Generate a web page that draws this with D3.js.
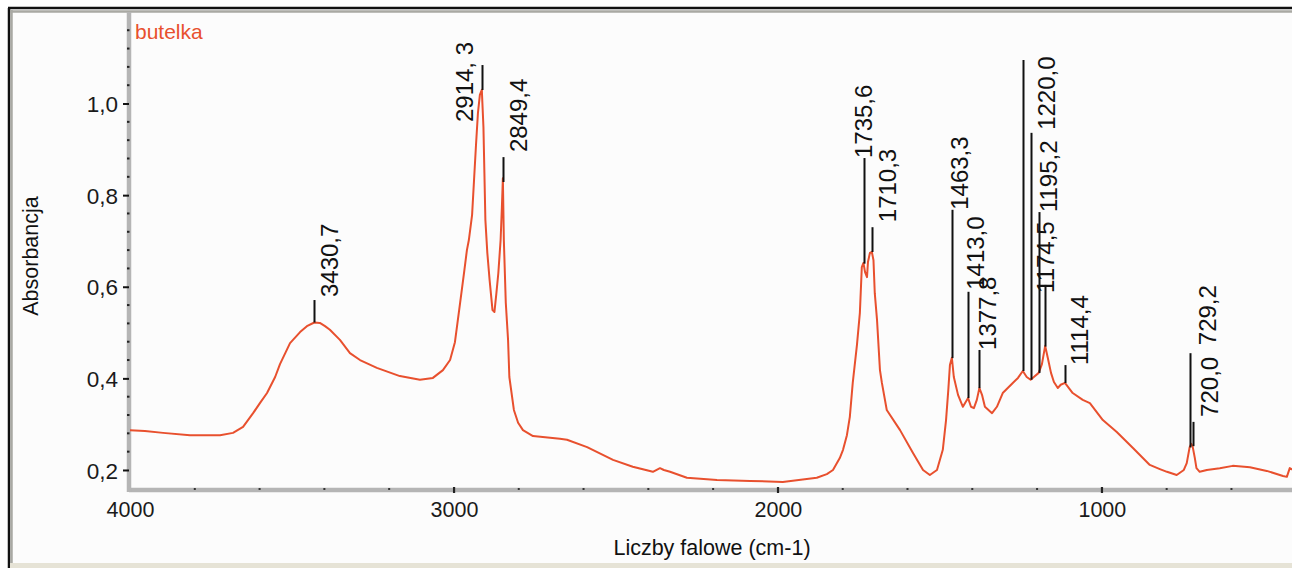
<!DOCTYPE html>
<html>
<head>
<meta charset="utf-8">
<script src="https://cdn.jsdelivr.net/npm/d3@7"></script>
<style>
  html, body { margin: 0; padding: 0; background: #ffffff; }
  svg { display: block; }
  text { font-family: "Liberation Sans", Arial, sans-serif; }
</style>
</head>
<body>
<svg id="chart" width="1292" height="568"></svg>
<script>
// ---- data ----
const wavenumbers = [4000, 3954, 3898, 3815, 3722, 3682, 3651, 3620, 3599, 3577, 3552, 3537, 3506, 3475, 3454, 3431, 3414, 3398, 3383, 3352, 3321, 3290, 3238, 3167, 3105, 3065, 3034, 3012, 2997, 2981, 2969, 2960, 2954, 2944, 2938, 2932, 2926, 2920, 2914, 2909, 2906, 2903, 2897, 2890, 2881, 2875, 2869, 2863, 2856, 2852, 2849, 2846, 2840, 2833, 2829, 2815, 2802, 2787, 2756, 2673, 2651, 2589, 2509, 2448, 2386, 2364, 2352, 2333, 2281, 2188, 2086, 1985, 1880, 1849, 1830, 1809, 1799, 1787, 1778, 1769, 1756, 1747, 1741, 1736, 1731, 1725, 1722, 1716, 1710, 1705, 1701, 1694, 1685, 1679, 1664, 1623, 1583, 1552, 1531, 1509, 1491, 1481, 1474, 1469, 1463, 1457, 1444, 1429, 1413, 1404, 1395, 1386, 1378, 1370, 1361, 1339, 1324, 1306, 1275, 1259, 1244, 1232, 1220, 1210, 1195, 1185, 1175, 1167, 1157, 1148, 1136, 1127, 1114, 1090, 1059, 1037, 997, 954, 904, 852, 821, 799, 769, 747, 738, 729, 724, 720, 713, 708, 698, 676, 636, 596, 543, 491, 441, 429, 420, 410];
const absorbance = [0.287, 0.285, 0.281, 0.276, 0.276, 0.281, 0.294, 0.324, 0.346, 0.368, 0.403, 0.431, 0.477, 0.501, 0.514, 0.522, 0.521, 0.514, 0.506, 0.484, 0.455, 0.440, 0.423, 0.405, 0.397, 0.401, 0.418, 0.440, 0.479, 0.565, 0.630, 0.680, 0.702, 0.757, 0.833, 0.909, 0.979, 1.019, 1.030, 0.949, 0.848, 0.746, 0.674, 0.615, 0.549, 0.545, 0.586, 0.630, 0.702, 0.774, 0.837, 0.702, 0.565, 0.484, 0.403, 0.331, 0.303, 0.287, 0.274, 0.268, 0.266, 0.250, 0.222, 0.207, 0.196, 0.204, 0.200, 0.196, 0.183, 0.178, 0.176, 0.174, 0.183, 0.191, 0.200, 0.226, 0.244, 0.276, 0.316, 0.390, 0.473, 0.543, 0.643, 0.652, 0.632, 0.621, 0.654, 0.674, 0.676, 0.658, 0.586, 0.527, 0.418, 0.390, 0.331, 0.287, 0.237, 0.200, 0.189, 0.200, 0.244, 0.309, 0.375, 0.429, 0.445, 0.403, 0.364, 0.338, 0.357, 0.338, 0.335, 0.353, 0.379, 0.364, 0.338, 0.324, 0.338, 0.368, 0.390, 0.401, 0.416, 0.403, 0.397, 0.403, 0.412, 0.431, 0.471, 0.445, 0.412, 0.392, 0.379, 0.386, 0.390, 0.368, 0.353, 0.346, 0.309, 0.283, 0.248, 0.211, 0.202, 0.196, 0.189, 0.200, 0.215, 0.250, 0.257, 0.252, 0.226, 0.204, 0.196, 0.200, 0.204, 0.209, 0.206, 0.198, 0.187, 0.185, 0.204, 0.200];

const seriesName = "butelka";
const xTitle = "Liczby falowe (cm-1)";
const yTitle = "Absorbancja";

const xTickValues = [4000, 3000, 2000, 1000];
const xTickLabels = ["4000", "3000", "2000", "1000"];
const xMinorTicks = [3800, 3600, 3400, 3200, 2800, 2600, 2400, 2200, 1800, 1600, 1400, 1200, 800, 600];
const yTickValues = [0.2, 0.4, 0.6, 0.8, 1.0];
const yTickLabels = ["0,2", "0,4", "0,6", "0,8", "1,0"];
const yMinorTicks = [0.24, 0.28, 0.32, 0.36, 0.44, 0.48, 0.52, 0.56, 0.64, 0.68, 0.72, 0.76, 0.84, 0.88, 0.92, 0.96, 1.04, 1.08, 1.12, 1.16];

const peakWavenumbers = [3430.7, 2914.3, 2849.4, 1735.6, 1710.3, 1463.3, 1413.0, 1377.8, 1244.0, 1220.0, 1195.2, 1174.5, 1114.4, 729.2, 720.0];
const peakLabels = ["3430,7", "2914, 3", "2849,4", "1735,6", "1710,3", "1463,3", "1413,0", "1377,8", "", "1220,0", "1195,2", "1174,5", "1114,4", "729,2", "720,0"];
const peakLineTops = [0.571, 1.084, 0.883, 0.881, 0.730, 0.768, 0.589, 0.462, 1.095, 0.936, 0.763, 0.604, 0.429, 0.455, 0.305];

// ---- layout (pixel offsets of the rotated peak labels) ----
const labelDx = [23, -10, 23, 7, 23, 15, 15, 16, 0, 23, 17, 8, 22, 25, 24];
const labelDy = [-3, 57, -5, 0, -5, 0, -2, 0, 0, -3, 0, 8, 0, -8, -5];

// ---- drawing ----
const W = 1292, H = 568;
const svg = d3.select("#chart");

const x = d3.scaleLinear().domain([4000, 410]).range([130, 1293]);
const y = d3.scaleLinear().domain([0.1563, 1.1998]).range([490, 12]);

// window frame
svg.append("rect").attr("x", 10).attr("y", 10).attr("width", W - 10).attr("height", H - 14).attr("fill", "#fcfcfc");
svg.append("line").attr("x1", 8).attr("x2", W).attr("y1", 8).attr("y2", 8).attr("stroke", "#111").attr("stroke-width", 2.5);
svg.append("line").attr("x1", 9).attr("x2", 9).attr("y1", 8).attr("y2", H).attr("stroke", "#111").attr("stroke-width", 2.5);
svg.append("line").attr("x1", 10).attr("x2", W).attr("y1", 11.5).attr("y2", 11.5).attr("stroke", "#a9a9a3").attr("stroke-width", 2.5);
svg.append("line").attr("x1", 11.5).attr("x2", 11.5).attr("y1", 10).attr("y2", H).attr("stroke", "#a9a9a3").attr("stroke-width", 2.5);
svg.append("line").attr("x1", 10).attr("x2", W).attr("y1", 565.5).attr("y2", 565.5).attr("stroke", "#e6e3d6").attr("stroke-width", 5);

// clip for data
svg.append("clipPath").attr("id", "plotclip").append("rect")
  .attr("x", 130).attr("y", 12).attr("width", 1163).attr("height", 478);

// axes lines (thick grey)
const axisColor = "#b5b5b5";
svg.append("line").attr("x1", 129).attr("x2", W).attr("y1", 490).attr("y2", 490)
  .attr("stroke", axisColor).attr("stroke-width", 4.5);
svg.append("line").attr("x1", 129).attr("x2", 129).attr("y1", 12).attr("y2", 492)
  .attr("stroke", axisColor).attr("stroke-width", 4.5);

// x axis ticks labels via d3 axis
const xAxis = d3.axisBottom(x).tickValues(xTickValues)
  .tickFormat((d, i) => xTickLabels[i]).tickSize(0).tickPadding(0);
const gx = svg.append("g").attr("transform", "translate(0,490)").call(xAxis);
gx.select(".domain").remove();
gx.selectAll("text").attr("y", 27).attr("dy", 0)
  .attr("font-size", 21.5).attr("fill", "#1a1a1a")
  .attr("font-family", "'Liberation Sans', Arial, sans-serif");

// x major tick marks
svg.append("g").selectAll("rect").data(xTickValues.slice(1)).join("rect")
  .attr("x", d => x(d) - 1).attr("y", 487).attr("width", 2.2).attr("height", 6).attr("fill", "#222");
// x minor dots
svg.append("g").selectAll("rect").data(xMinorTicks).join("rect")
  .attr("x", d => x(d) - 1).attr("y", 488).attr("width", 2).attr("height", 2).attr("fill", "#333");

// y axis labels via d3 axis
const yAxis = d3.axisLeft(y).tickValues(yTickValues)
  .tickFormat((d, i) => yTickLabels[i]).tickSize(6).tickPadding(5);
const gy = svg.append("g").attr("transform", "translate(129,0)").call(yAxis);
gy.select(".domain").remove();
gy.selectAll(".tick line").attr("stroke", "#111").attr("stroke-width", 2);
gy.selectAll("text").attr("font-size", 22.5).attr("fill", "#1a1a1a")
  .attr("font-family", "'Liberation Sans', Arial, sans-serif").attr("dy", "0.36em");
// y minor dots
svg.append("g").selectAll("rect").data(yMinorTicks).join("rect")
  .attr("x", 127).attr("y", d => y(d) - 1).attr("width", 2.5).attr("height", 2).attr("fill", "#222");

// axis titles
svg.append("text").attr("x", 712).attr("y", 555).attr("text-anchor", "middle")
  .attr("font-size", 21.5).attr("fill", "#111").text(xTitle);
svg.append("text").attr("transform", "translate(38,256) rotate(-90)").attr("text-anchor", "middle")
  .attr("font-size", 21.5).attr("fill", "#111").text(yTitle);

// series name
const seriesColor = "#e8502e";
svg.append("text").attr("x", 135).attr("y", 39).attr("font-size", 21)
  .attr("fill", seriesColor).text(seriesName);

// spectrum line
const pts = wavenumbers.map((w, i) => [w, absorbance[i]]);
const line = d3.line().x(d => x(d[0])).y(d => y(d[1]));
svg.append("path").datum(pts).attr("d", line).attr("fill", "none")
  .attr("stroke", seriesColor).attr("stroke-width", 2).attr("stroke-linejoin", "round")
  .attr("clip-path", "url(#plotclip)");

// curve value at a wavenumber (linear interpolation along the spectrum)
function curveAt(w) {
  for (let i = 0; i < wavenumbers.length - 1; i++) {
    const a = wavenumbers[i], b = wavenumbers[i + 1];
    if (w <= a && w >= b) {
      const t = (a - w) / (a - b);
      return absorbance[i] + t * (absorbance[i + 1] - absorbance[i]);
    }
  }
  return absorbance[absorbance.length - 1];
}

// peak markers
const gp = svg.append("g");
peakWavenumbers.forEach((w, i) => {
  const px = Math.round(x(w)) + 0.5;
  gp.append("line").attr("x1", px).attr("x2", px)
    .attr("y1", y(curveAt(w))).attr("y2", y(peakLineTops[i]))
    .attr("stroke", "#111").attr("stroke-width", 2);
  if (peakLabels[i]) {
    const tx = px + labelDx[i];
    const ty = y(peakLineTops[i]) + labelDy[i];
    gp.append("text").attr("transform", `translate(${tx},${ty}) rotate(-90)`)
      .attr("text-anchor", "start").attr("font-size", 24).attr("fill", "#111")
      .text(peakLabels[i]);
  }
});
</script>
</body>
</html>
